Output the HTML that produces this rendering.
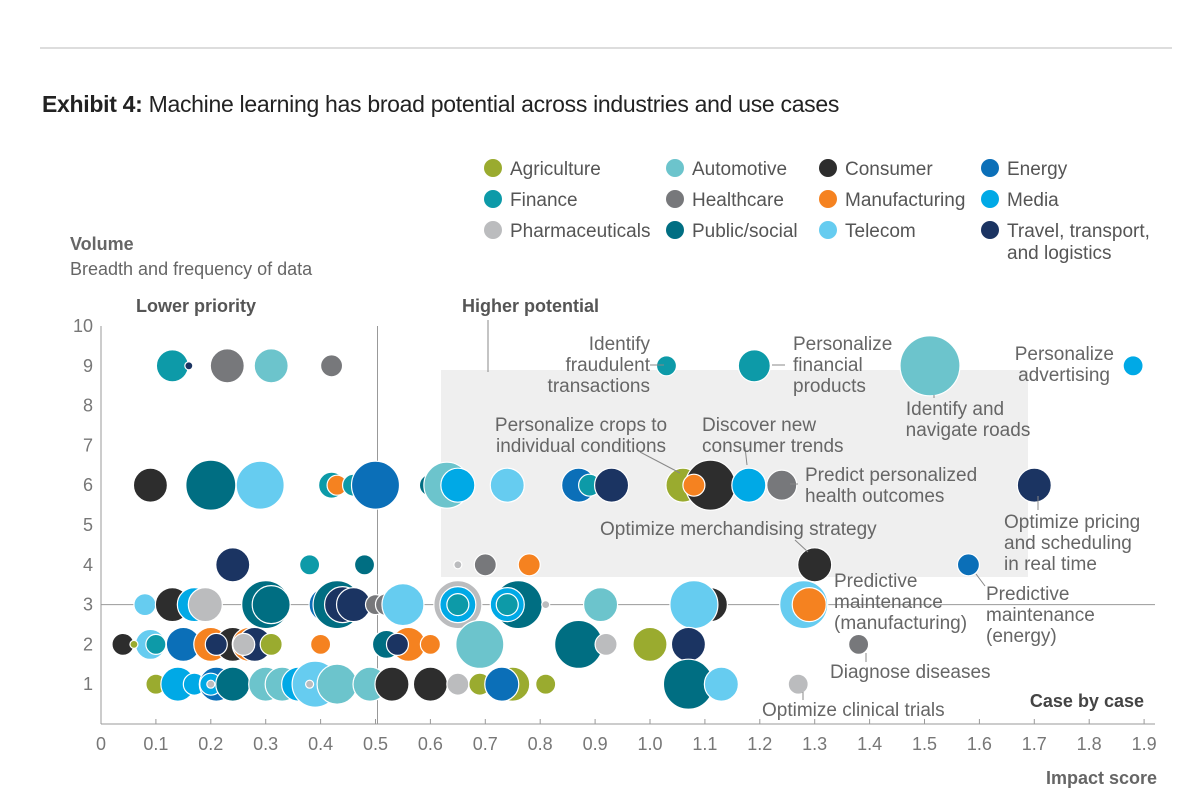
<!DOCTYPE html>
<html><head><meta charset="utf-8"><style>
body{margin:0;background:#fff;}
svg{display:block;font-family:"Liberation Sans",sans-serif;}
</style></head><body>
<svg id="chart" width="1200" height="804" viewBox="0 0 1200 804">
<line x1="40" y1="48" x2="1172" y2="48" stroke="#bbb" stroke-width="1"/>
<text x="42" y="112" font-size="23" fill="#222" letter-spacing="-0.3"><tspan font-weight="bold">Exhibit 4:</tspan> Machine learning has broad potential across industries and use cases</text>
<text x="70" y="250" font-size="18" font-weight="bold" fill="#666">Volume</text>
<text x="70" y="275" font-size="18" fill="#666">Breadth and frequency of data</text>
<text x="1157" y="784" font-size="18" font-weight="bold" fill="#666" text-anchor="end">Impact score</text>
<rect x="441" y="370" width="587" height="207" fill="#efefef"/>
<text x="136" y="312" font-size="18" font-weight="bold" fill="#555">Lower priority</text>
<text x="462" y="312" font-size="18" font-weight="bold" fill="#555">Higher potential</text>
<text x="1144" y="707" font-size="18" font-weight="bold" fill="#444" text-anchor="end">Case by case</text>
<g id="axes"></g>
<g id="bubbles"></g>
<g id="annotations" font-size="19" fill="#666">
<g stroke="#888" stroke-width="1" fill="none">
<line x1="650" y1="365" x2="664" y2="365"/><line x1="772" y1="365" x2="785" y2="365"/>
<line x1="934" y1="395" x2="934" y2="398"/><line x1="640" y1="452" x2="680" y2="473"/>
<line x1="745" y1="447" x2="747" y2="465"/><line x1="790" y1="484" x2="798" y2="484"/>
<line x1="795" y1="540" x2="808" y2="552"/><line x1="1038" y1="496" x2="1038" y2="510"/>
<line x1="976" y1="574" x2="985" y2="586"/><line x1="866" y1="653" x2="866" y2="662"/>
<line x1="803" y1="692" x2="803" y2="700"/><line x1="488" y1="320" x2="488" y2="372"/>
</g>
<text text-anchor="end"><tspan x="650" y="350">Identify</tspan><tspan x="650" y="371">fraudulent</tspan><tspan x="650" y="392">transactions</tspan></text>
<text><tspan x="793" y="350">Personalize</tspan><tspan x="793" y="371">financial</tspan><tspan x="793" y="392">products</tspan></text>
<text text-anchor="middle"><tspan x="955" y="415">Identify and</tspan><tspan x="968" y="436">navigate roads</tspan></text>
<text text-anchor="end"><tspan x="1114" y="360">Personalize</tspan><tspan x="1110" y="381">advertising</tspan></text>
<text text-anchor="middle"><tspan x="581" y="431">Personalize crops to</tspan><tspan x="581" y="452">individual conditions</tspan></text>
<text><tspan x="702" y="431">Discover new</tspan><tspan x="702" y="452">consumer trends</tspan></text>
<text><tspan x="805" y="481">Predict personalized</tspan><tspan x="805" y="502">health outcomes</tspan></text>
<text x="600" y="535">Optimize merchandising strategy</text>
<text><tspan x="1004" y="528">Optimize pricing</tspan><tspan x="1004" y="549">and scheduling</tspan><tspan x="1004" y="570">in real time</tspan></text>
<text><tspan x="834" y="587">Predictive</tspan><tspan x="834" y="608">maintenance</tspan><tspan x="834" y="629">(manufacturing)</tspan></text>
<text><tspan x="986" y="600">Predictive</tspan><tspan x="986" y="621">maintenance</tspan><tspan x="986" y="642">(energy)</tspan></text>
<text x="830" y="678">Diagnose diseases</text>
<text x="762" y="716">Optimize clinical trials</text>
</g>
<g id="legend" font-size="19" fill="#555"></g>
</svg>
<script>
const categories=["Agriculture","Automotive","Consumer","Energy","Finance","Healthcare","Manufacturing","Media","Pharmaceuticals","Public/social","Telecom","Travel, transport,"];
const catColors=["#9aab2f","#6cc4cc","#2d2d2d","#0b6fb8","#0d9aa8","#77787b","#f58220","#00a9e6","#bbbcbe","#006e82","#66ccf0","#1b3462"];
const xTicks=["0","0.1","0.2","0.3","0.4","0.5","0.6","0.7","0.8","0.9","1.0","1.1","1.2","1.3","1.4","1.5","1.6","1.7","1.8","1.9"];
const yTicks=[1,2,3,4,5,6,7,8,9,10];
// bubble data: x impact, y volume, size, category index
const bx=[0.13,0.16,0.23,0.31,0.42,1.03,1.19,1.51,1.88,
0.09,0.2,0.29,0.42,0.43,0.46,0.5,0.6,0.63,0.65,0.74,0.87,0.89,0.93,1.06,1.11,1.08,1.18,1.24,1.70,
0.24,0.38,0.48,0.65,0.70,0.78,1.30,1.58,
0.08,0.13,0.17,0.19,0.3,0.31,0.41,0.43,0.44,0.46,0.50,0.52,0.55,0.65,0.65,0.65,0.76,0.74,0.74,0.81,0.91,1.11,1.08,1.28,1.29,
0.04,0.09,0.06,0.1,0.15,0.2,0.24,0.21,0.27,0.28,0.26,0.31,0.4,0.52,0.56,0.54,0.6,0.69,0.87,0.92,1.0,1.07,1.38,
0.1,0.14,0.17,0.21,0.2,0.2,0.24,0.30,0.33,0.36,0.39,0.38,0.43,0.49,0.53,0.6,0.65,0.75,0.69,0.73,0.81,1.07,1.13,1.27];
const by=[9,9,9,9,9,9,9,9,9,
6,6,6,6,6,6,6,6,6,6,6,6,6,6,6,6,6,6,6,6,
4,4,4,4,4,4,4,4,
3,3,3,3,3,3,3,3,3,3,3,3,3,3,3,3,3,3,3,3,3,3,3,3,3,
2,2,2,2,2,2,2,2,2,2,2,2,2,2,2,2,2,2,2,2,2,2,2,
1,1,1,1,1,1,1,1,1,1,1,1,1,1,1,1,1,1,1,1,1,1,1,1];
const bsize=[16,4,17,17,11,10,16,30,10,
17,25,24,13,10,11,24,11,23,17,17,17,11,17,17,25,11,17,15,17,
17,10,10,4,11,11,17,11,
11,17,17,17,24,19,17,24,18,17,10,11,21,24,18,11,24,17,11,4,17,17,24,24,17,
11,15,4,10,17,17,17,11,17,17,11,11,10,14,17,11,10,24,24,11,17,17,10,
10,17,11,17,11,4,17,17,17,17,23,4,20,17,17,17,11,17,11,17,10,25,17,10];
const bcat=[4,11,5,1,5,4,4,1,7,
2,9,10,4,6,4,3,9,1,7,10,3,4,11,0,2,6,7,5,11,
11,4,9,8,5,6,2,3,
10,2,7,8,9,9,3,9,11,11,5,5,10,8,7,4,9,7,4,8,1,2,10,10,6,
2,10,0,4,3,6,2,11,6,11,8,0,6,9,6,11,6,1,9,8,0,11,5,
0,7,7,3,7,8,9,1,1,7,10,8,1,1,2,2,8,0,0,3,0,9,10,8];
const NS="http://www.w3.org/2000/svg";
const X0=101,XS=549,Y0=724,YS=39.8;
const xs=v=>X0+v*XS, ys=v=>Y0-v*YS;
const axes=document.getElementById('axes');
function mk(tag,attrs,parent){const e=document.createElementNS(NS,tag);for(const k in attrs)e.setAttribute(k,attrs[k]);parent.appendChild(e);return e;}
let l=mk('line',{x1:X0,y1:326,x2:X0,y2:Y0,stroke:'#999'},axes);


l=mk('line',{x1:X0,y1:Y0,x2:1155,y2:Y0,stroke:'#999'},axes);


l=mk('line',{x1:xs(0.5)+2,y1:326,x2:xs(0.5)+2,y2:Y0,stroke:'#999'},axes);


l=mk('line',{x1:X0,y1:ys(3),x2:1155,y2:ys(3),stroke:'#999'},axes);


xTicks.forEach((t,i)=>{const v=i/10;
 const tk=mk('line',{x1:xs(v),y1:Y0,x2:xs(v),y2:Y0-5,stroke:'#999'},axes);
 
 
 const tx=mk('text',{x:xs(v),y:750,'font-size':18,fill:'#777','text-anchor':'middle'},axes);tx.textContent=t;
 
 
});
yTicks.forEach(t=>{
 const tx=mk('text',{x:93,y:ys(t)+6,'font-size':18,fill:'#777','text-anchor':'end'},axes);tx.textContent=t;
 
 
});
const bg=document.getElementById('bubbles');
bx.forEach((v,i)=>{
 const c=mk('circle',{cx:xs(v),cy:ys(by[i]),r:bsize[i],fill:catColors[bcat[i]],stroke:'#fff','stroke-width':1.2},bg);
 
 
});
const lg=document.getElementById('legend');
const lcol=[493,675,828,990],lrow=[168,199,230];
const order=[[0,1,2,3],[4,5,6,7],[8,9,10,11]];
order.forEach((row,ri)=>row.forEach((ci,cj)=>{
 const c=mk('circle',{cx:lcol[cj],cy:lrow[ri],r:9,fill:catColors[ci]},lg);
 
 
 const t=mk('text',{x:lcol[cj]+17,y:lrow[ri]+7},lg);t.textContent=categories[ci];
 
 
}));
const t2=mk('text',{x:1007,y:259},lg);t2.textContent="and logistics";


</script>
</body></html>
